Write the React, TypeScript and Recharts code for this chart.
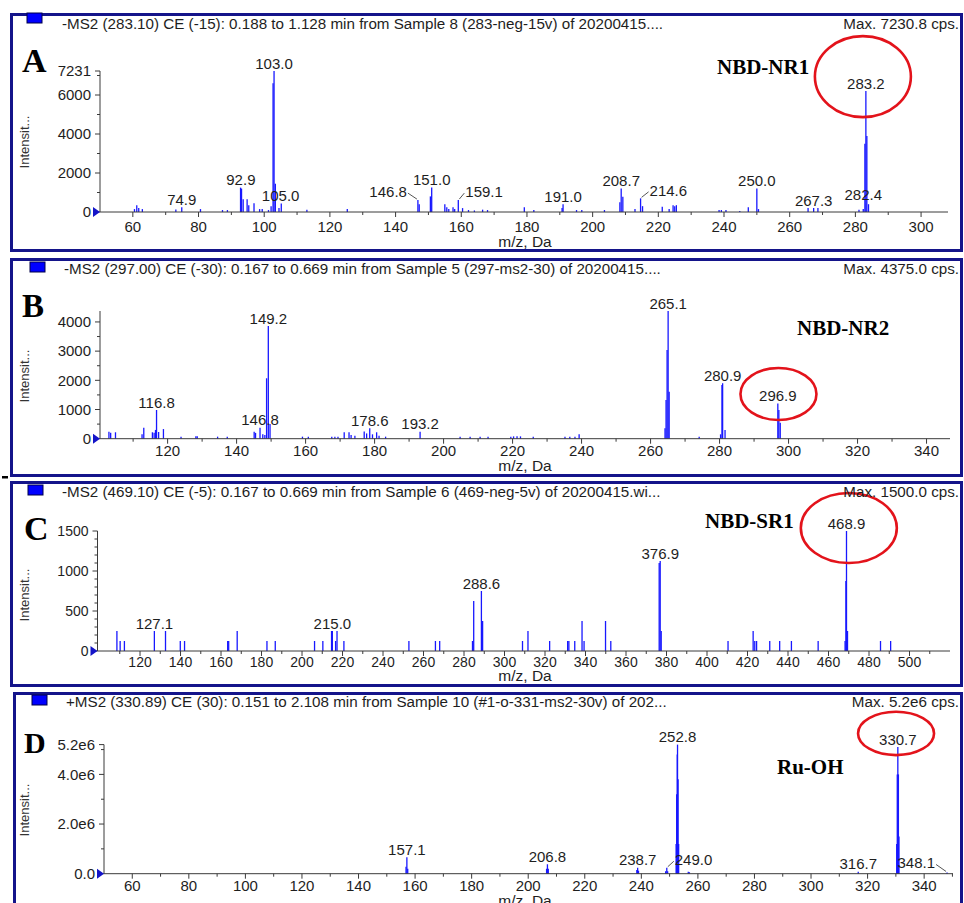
import React from "react";
import { ComposedChart, Bar, Scatter, XAxis, YAxis, ReferenceDot } from "recharts";

const SANS = '"Liberation Sans", Arial, Helvetica, sans-serif';
const SERIF = '"Liberation Serif", "Times New Roman", Times, serif';
const BLUE = "#1818ff";
const INK = "#1e1e1e";
const AXIS = "#3a3a3a";
const FRAME = "#14148a";
const RED = "#e3131b";

type Pair = [number, number];

// ---- A: NBD-NR1 ----
const peaksA: Pair[] = [
  [60.5, 150], [61.2, 350], [61.8, 200], [62.9, 150], [73.1, 130], [74.9, 240], [80.6, 150],
  [87.3, 100], [88.8, 100], [92.8, 1250], [93.1, 1200], [93.6, 650], [94.8, 650], [95.3, 350],
  [96.9, 450], [98.6, 150], [99.4, 150], [101.3, 100], [102.1, 300], [102.7, 6600], [103.0, 7231],
  [103.4, 1450], [104.5, 200], [105.2, 440], [113.0, 120], [125.3, 150], [146.8, 610], [147.2, 400],
  [150.6, 800], [151.0, 1257], [155.0, 400], [155.6, 250], [156.2, 150], [157.5, 250], [158.0, 150],
  [159.1, 610], [160.4, 200], [162.2, 100], [164.0, 80], [166.5, 120], [168.0, 100], [179.2, 240],
  [182.1, 100], [190.7, 200], [191.0, 400], [195.1, 100], [196.7, 100], [203.6, 100], [208.3, 500],
  [208.7, 1200], [209.2, 780], [212.9, 150], [214.6, 700], [215.2, 300], [221.2, 270], [223.3, 150],
  [224.5, 350], [225.0, 300], [225.5, 350], [238.5, 100], [239.2, 100], [240.6, 100], [244.8, 50],
  [247.4, 240], [250.0, 1200], [250.5, 150], [265.6, 200], [267.3, 200], [268.6, 200], [281.1, 120],
  [282.4, 150], [282.9, 3500], [283.2, 6200], [283.5, 3900], [284.0, 400],
];
const labelsA: Pair[] = [
  [74.9, 240], [92.9, 1250], [103.0, 7231], [105.0, 440], [146.8, 610], [151.0, 1257], [159.1, 610],
  [191.0, 400], [208.7, 1200], [214.6, 700], [250.0, 1200], [267.3, 200], [282.4, 150], [283.2, 6200],
];
const xMajorA = [60, 80, 100, 120, 140, 160, 180, 200, 220, 240, 260, 280, 300];
const xMinorA = [70, 90, 110, 130, 150, 170, 190, 210, 230, 250, 270, 290];
const yMajorA = [0, 2000, 4000, 6000, 7231];
const yMinorA = [1000, 3000, 5000, 7000];

// ---- B: NBD-NR2 ----
const peaksB: Pair[] = [
  [103.0, 240], [103.5, 200], [104.9, 220], [112.6, 150], [113.1, 375], [115.6, 220], [116.1, 200],
  [116.5, 300], [116.8, 983], [117.4, 230], [118.8, 330], [123.9, 70], [128.2, 80], [128.6, 80],
  [134.5, 70], [137.3, 70], [145.1, 240], [145.5, 200], [146.8, 375], [147.6, 150], [148.2, 130],
  [148.7, 2070], [149.2, 3860], [149.7, 500], [159.1, 70], [160.8, 70], [167.6, 70], [168.5, 70],
  [169.4, 70], [171.2, 220], [172.6, 220], [173.2, 130], [174.3, 100], [177.0, 250], [177.7, 180],
  [178.6, 355], [179.4, 150], [180.6, 220], [181.3, 100], [183.2, 70], [193.2, 240], [204.8, 70],
  [207.7, 70], [210.6, 70], [212.9, 70], [219.5, 70], [220.3, 80], [221.3, 80], [222.3, 80],
  [226.0, 70], [235.2, 70], [236.6, 70], [238.1, 70], [239.3, 150], [264.2, 355], [264.5, 1325],
  [264.8, 3040], [265.1, 4375], [265.4, 1610], [274.1, 70], [280.3, 150], [280.7, 1840], [280.9, 1900],
  [281.6, 300], [296.9, 1210], [297.2, 980], [297.6, 550],
];
const labelsB: Pair[] = [
  [116.8, 983], [146.8, 375], [149.2, 3860], [178.6, 355], [193.2, 240], [265.1, 4375], [280.9, 1900],
  [296.9, 1210],
];
const xMajorB = [120, 140, 160, 180, 200, 220, 240, 260, 280, 300, 320, 340];
const xMinorB = [110, 130, 150, 170, 190, 210, 230, 250, 270, 290, 310, 330];
const yMajorB = [0, 1000, 2000, 3000, 4000];
const yMinorB = [500, 1500, 2500, 3500];

// ---- C: NBD-SR1 ----
const peaksC: Pair[] = [
  [108.6, 250], [110.2, 125], [112.3, 125], [127.1, 250], [132.6, 250], [139.9, 125], [142.0, 125],
  [163.3, 125], [163.8, 125], [168.0, 250], [182.7, 125], [186.8, 125], [206.2, 125], [210.3, 125],
  [214.6, 250], [215.0, 250], [216.6, 125], [217.3, 250], [220.7, 125], [252.8, 125], [265.9, 125],
  [268.0, 125], [284.2, 125], [284.8, 625], [288.6, 750], [289.2, 375], [308.9, 125], [311.6, 250],
  [322.3, 125], [331.2, 125], [331.8, 125], [334.7, 125], [338.3, 375], [339.3, 125], [349.9, 375],
  [352.5, 125], [376.4, 1100], [376.9, 1125], [377.4, 250], [410.4, 125], [422.8, 250], [423.6, 125],
  [424.5, 125], [431.0, 125], [435.9, 125], [441.7, 125], [454.9, 125], [468.2, 125], [468.6, 875],
  [468.9, 1500], [469.4, 250], [485.7, 125], [490.7, 125],
];
const labelsC: Pair[] = [[127.1, 250], [215.0, 250], [288.6, 750], [376.9, 1125], [468.9, 1500]];
const xMajorC = [120, 140, 160, 180, 200, 220, 240, 260, 280, 300, 320, 340, 360, 380, 400, 420, 440, 460, 480, 500];
const xMinorC = [110, 130, 150, 170, 190, 210, 230, 250, 270, 290, 310, 330, 350, 370, 390, 410, 430, 450, 470, 490, 510];
const yMajorC = [0, 500, 1000, 1500];
const yMinorC = [100, 200, 300, 400, 600, 700, 800, 900, 1100, 1200, 1300, 1400];

// ---- D: Ru-OH ----
const peaksD: Pair[] = [
  [156.8, 280000], [157.1, 660000], [157.4, 200000], [206.5, 200000], [206.8, 380000], [207.1, 200000],
  [238.4, 150000], [238.7, 240000], [239.0, 120000], [248.6, 100000], [249.0, 240000], [249.3, 100000],
  [252.3, 1200000], [252.5, 3200000], [252.7, 4800000], [252.8, 5200000], [253.0, 3800000], [253.2, 1200000],
  [256.6, 80000], [257.0, 60000], [316.7, 80000], [330.3, 1200000], [330.5, 4000000], [330.7, 5100000],
  [330.9, 4000000], [331.1, 1500000], [348.1, 50000],
];
const labelsD: Pair[] = [
  [157.1, 660000], [206.8, 380000], [238.7, 240000], [249.0, 240000], [252.8, 5200000], [316.7, 80000],
  [330.7, 5100000], [348.1, 50000],
];
const xMajorD = [60, 80, 100, 120, 140, 160, 180, 200, 220, 240, 260, 280, 300, 320, 340];
const xMinorD = [70, 90, 110, 130, 150, 170, 190, 210, 230, 250, 270, 290, 310, 330, 350];
const yMajorD = [0, 2000000, 4000000, 5200000];
const yMinorD = [1000000, 3000000, 5000000];

// labels that are shifted off their peak, with a leader line
const labelNudge: Record<string, { dx: number; dy: number; anchor: "start" | "middle" | "end"; leader: boolean }> = {
  "A146.8": { dx: -11, dy: -3, anchor: "end", leader: true },
  "A159.1": { dx: 7, dy: -3, anchor: "start", leader: true },
  "A214.6": { dx: 9, dy: -2.5, anchor: "start", leader: true },
  "A282.4": { dx: 0, dy: -9, anchor: "middle", leader: false },
  "D249.0": { dx: 8, dy: -2.5, anchor: "start", leader: true },
  "D348.1": { dx: -12, dy: -4, anchor: "end", leader: true },
};

const toRows = (pairs: Pair[]) => pairs.map(([mz, i]) => ({ mz, i }));

interface Panel {
  key: string;
  peaks: Pair[];
  labels: Pair[];
  xMajor: number[];
  xMinor: number[];
  yMajor: number[];
  yMinor: number[];
  xDomain: [number, number];
  yDomain: [number, number];
  yFormat: (v: number) => string;
  frame: [number, number, number, number];
  plot: { left: number; top: number; right: number; bottom: number };
  tickFont: number;
  xLabelDrop: number;
  circle: { mz: number; i: number; dx: number; dy: number; rx: number; ry: number };
  legend: [number, number];
  title: string;
  titleX: number;
  titleY: number;
  max: string;
  letter: { x: number; y: number; size: number };
  intensY: number;
  mzY: number;
  name: { text: string; x: number; y: number };
}

const intFmt = (v: number) => String(v);
const sciFmt = (v: number) => (v === 0 ? "0.0" : `${(v / 1e6).toFixed(1)}e6`);

const panels: Panel[] = [
  {
    key: "A", peaks: peaksA, labels: labelsA, xMajor: xMajorA, xMinor: xMinorA, yMajor: yMajorA, yMinor: yMinorA,
    xDomain: [50, 308.2], yDomain: [0, 7231], yFormat: intFmt,
    frame: [10, 13, 963, 252], plot: { left: 100, top: 71, right: 948, bottom: 212 },
    tickFont: 15, xLabelDrop: 19.5,
    circle: { mz: 283.2, i: 6200, dx: -3, dy: -14.5, rx: 48, ry: 40.5 },
    legend: [27, 13], title: "-MS2 (283.10) CE (-15): 0.188 to 1.128 min from Sample 8 (283-neg-15v) of 20200415....",
    titleX: 62, titleY: 29, max: "Max. 7230.8 cps.", letter: { x: 22, y: 72, size: 34 },
    intensY: 142, mzY: 247, name: { text: "NBD-NR1", x: 717, y: 74 },
  },
  {
    key: "B", peaks: peaksB, labels: labelsB, xMajor: xMajorB, xMinor: xMinorB, yMajor: yMajorB, yMinor: yMinorB,
    xDomain: [100.4, 346.8], yDomain: [0, 4375], yFormat: intFmt,
    frame: [10, 258, 963, 477], plot: { left: 100, top: 311, right: 950, bottom: 438.7 },
    tickFont: 15, xLabelDrop: 17.5,
    circle: { mz: 296.9, i: 1210, dx: 0.6, dy: -9.4, rx: 38, ry: 26 },
    legend: [30, 262], title: "-MS2 (297.00) CE (-30): 0.167 to 0.669 min from Sample 5 (297-ms2-30) of 20200415....",
    titleX: 64, titleY: 274, max: "Max. 4375.0 cps.", letter: { x: 22, y: 317, size: 33 },
    intensY: 376, mzY: 471, name: { text: "NBD-NR2", x: 797, y: 335 },
  },
  {
    key: "C", peaks: peaksC, labels: labelsC, xMajor: xMajorC, xMinor: xMinorC, yMajor: yMajorC, yMinor: yMinorC,
    xDomain: [99, 520], yDomain: [0, 1500], yFormat: intFmt,
    frame: [10, 481, 963, 687], plot: { left: 97.5, top: 531, right: 950, bottom: 651 },
    tickFont: 14, xLabelDrop: 15.5,
    circle: { mz: 468.9, i: 1500, dx: 2.3, dy: -3, rx: 48, ry: 35 },
    legend: [28, 485], title: "-MS2 (469.10) CE (-5): 0.167 to 0.669 min from Sample 6 (469-neg-5v) of 20200415.wi...",
    titleX: 62, titleY: 497, max: "Max. 1500.0 cps.", letter: { x: 24, y: 540, size: 34 },
    intensY: 595, mzY: 681, name: { text: "NBD-SR1", x: 705, y: 528 },
  },
  {
    key: "D", peaks: peaksD, labels: labelsD, xMajor: xMajorD, xMinor: xMinorD, yMajor: yMajorD, yMinor: yMinorD,
    xDomain: [50, 350.2], yDomain: [0, 5200000], yFormat: sciFmt,
    frame: [13, 692, 963, 915], plot: { left: 104, top: 744.6, right: 953, bottom: 873.7 },
    tickFont: 15, xLabelDrop: 17.5,
    circle: { mz: 330.7, i: 5100000, dx: -1.8, dy: -13.7, rx: 38, ry: 21.7 },
    legend: [32, 695], title: "+MS2 (330.89) CE (30): 0.151 to 2.108 min from Sample 10 (#1-o-331-ms2-30v) of 202...",
    titleX: 66, titleY: 707, max: "Max. 5.2e6 cps.", letter: { x: 24, y: 753, size: 30 },
    intensY: 810, mzY: 906, name: { text: "Ru-OH", x: 777, y: 774 },
  },
];

const Stick = (props: any) => {
  const { x, y, width, height } = props;
  if (x == null || height == null || height <= 0) return null;
  const cx = x + width / 2;
  return <line x1={cx} x2={cx} y1={y} y2={y + height} stroke={BLUE} strokeWidth={1.3} />;
};

function SpectrumChart({ p }: { p: Panel }) {
  const YW = 60;
  const XH = 30;
  const h = p.frame[3] - p.frame[1];
  const margin = {
    top: p.plot.top - p.frame[1],
    left: p.plot.left - YW,
    right: 964 - p.plot.right,
    bottom: h - (p.plot.bottom - p.frame[1]) - XH,
  };
  const xTicks = [...p.xMajor, ...p.xMinor].sort((a, b) => a - b);
  const yTicks = [...p.yMajor, ...p.yMinor].sort((a, b) => a - b);

  const xTick = (props: any) => {
    const { x, y, payload } = props;
    const major = p.xMajor.includes(payload.value);
    return (
      <g>
        <line x1={x} x2={x} y1={y} y2={y + (major ? 5 : 3)} stroke={AXIS} />
        {major && (
          <text x={x} y={y + p.xLabelDrop} textAnchor="middle" fontSize={p.tickFont} fontFamily={SANS} fill={INK}>
            {payload.value}
          </text>
        )}
      </g>
    );
  };

  const yTick = (props: any) => {
    const { x, y, payload } = props;
    const v = payload.value;
    const major = p.yMajor.includes(v);
    return (
      <g>
        <line x1={x - (major ? 5 : 3)} x2={x} y1={y} y2={y} stroke={AXIS} />
        {v === 0 && <polygon points={`${x - 7},${y - 5} ${x - 7},${y + 5} ${x},${y}`} fill="#1414c8" />}
        {major && (
          <text x={x - 9} y={y} dy="0.35em" textAnchor="end" fontSize={p.tickFont} fontFamily={SANS} fill={INK}>
            {p.yFormat(v)}
          </text>
        )}
      </g>
    );
  };

  const labelShape = (props: any) => {
    const { cx, cy, payload } = props;
    const text = payload.mz.toFixed(1);
    const n = labelNudge[p.key + text] ?? { dx: 0, dy: -2.5, anchor: "middle", leader: false };
    const tx = cx + n.dx;
    const ty = cy + n.dy;
    const side = n.dx < 0 ? -1 : 1;
    return (
      <g>
        {n.leader && (
          <line x1={cx + side} y1={cy - 1} x2={tx - side} y2={ty - 4} stroke="#555" strokeWidth={1} />
        )}
        <text x={tx} y={ty} textAnchor={n.anchor} fontSize={15} fontFamily={SANS} fill={INK}>
          {text}
        </text>
      </g>
    );
  };

  const c = p.circle;
  return (
    <div style={{ position: "absolute", left: 0, top: p.frame[1] }}>
      <ComposedChart width={964} height={h} data={toRows(p.peaks)} margin={margin}>
        <XAxis
          dataKey="mz" type="number" domain={p.xDomain} ticks={xTicks} interval={0}
          tickSize={0} tickMargin={0} tickLine={false} tick={xTick} height={XH}
          axisLine={{ stroke: AXIS }}
        />
        <YAxis
          type="number" domain={p.yDomain} ticks={yTicks} interval={0}
          tickSize={0} tickMargin={0} tickLine={false} tick={yTick} width={YW}
          axisLine={{ stroke: AXIS }}
        />
        <Bar dataKey="i" barSize={2} shape={Stick} isAnimationActive={false} />
        <Scatter data={toRows(p.labels)} dataKey="i" shape={labelShape} isAnimationActive={false} />
        <ReferenceDot
          x={c.mz} y={c.i} r={1} ifOverflow="visible"
          shape={(s: any) => (
            <ellipse cx={s.cx + c.dx} cy={s.cy + c.dy} rx={c.rx} ry={c.ry} fill="none" stroke={RED} strokeWidth={2.6} />
          )}
        />
      </ComposedChart>
    </div>
  );
}

function Decorations() {
  return (
    <svg width={964} height={903} style={{ position: "absolute", left: 0, top: 0, pointerEvents: "none" }}>
      {panels.map((p) => {
        const [l, t, r, b] = p.frame;
        return (
          <g key={p.key}>
            <rect x={l + 1.5} y={t + 1.5} width={r - l - 3} height={b - t - 3} fill="none" stroke={FRAME} strokeWidth={3} />
            <rect x={p.legend[0]} y={p.legend[1]} width={15} height={10} fill="#0000ff" stroke="#00004a" strokeWidth={1} />
            <text x={p.titleX} y={p.titleY} fontSize={15.2} fontFamily={SANS} fill={INK}>{p.title}</text>
            <text x={959} y={p.titleY} fontSize={15.2} fontFamily={SANS} fill={INK} textAnchor="end">{p.max}</text>
            <text x={p.letter.x} y={p.letter.y} fontSize={p.letter.size} fontWeight="bold" fontFamily={SERIF} fill="#000">{p.key}</text>
            <text
              x={24} y={p.intensY} fontSize={13} fontFamily={SANS} fill="#333" textAnchor="middle"
              dominantBaseline="central" transform={`rotate(-90 24 ${p.intensY})`}
            >
              Intensit...
            </text>
            <text x={525} y={p.mzY} fontSize={15.5} fontFamily={SANS} fill={INK} textAnchor="middle">m/z, Da</text>
            <text x={p.name.x} y={p.name.y} fontSize={21} fontWeight="bold" fontFamily={SERIF} fill="#000">{p.name.text}</text>
          </g>
        );
      })}
      <rect x={2} y={476} width={6} height={2.5} fill="#000" />
    </svg>
  );
}

export default function App() {
  return (
    <div
      style={{
        position: "absolute", left: 0, top: 0, width: 964, height: 903,
        overflow: "hidden", background: "#fff", fontFamily: SANS,
      }}
    >
      {panels.map((p) => (
        <SpectrumChart key={p.key} p={p} />
      ))}
      <Decorations />
    </div>
  );
}
